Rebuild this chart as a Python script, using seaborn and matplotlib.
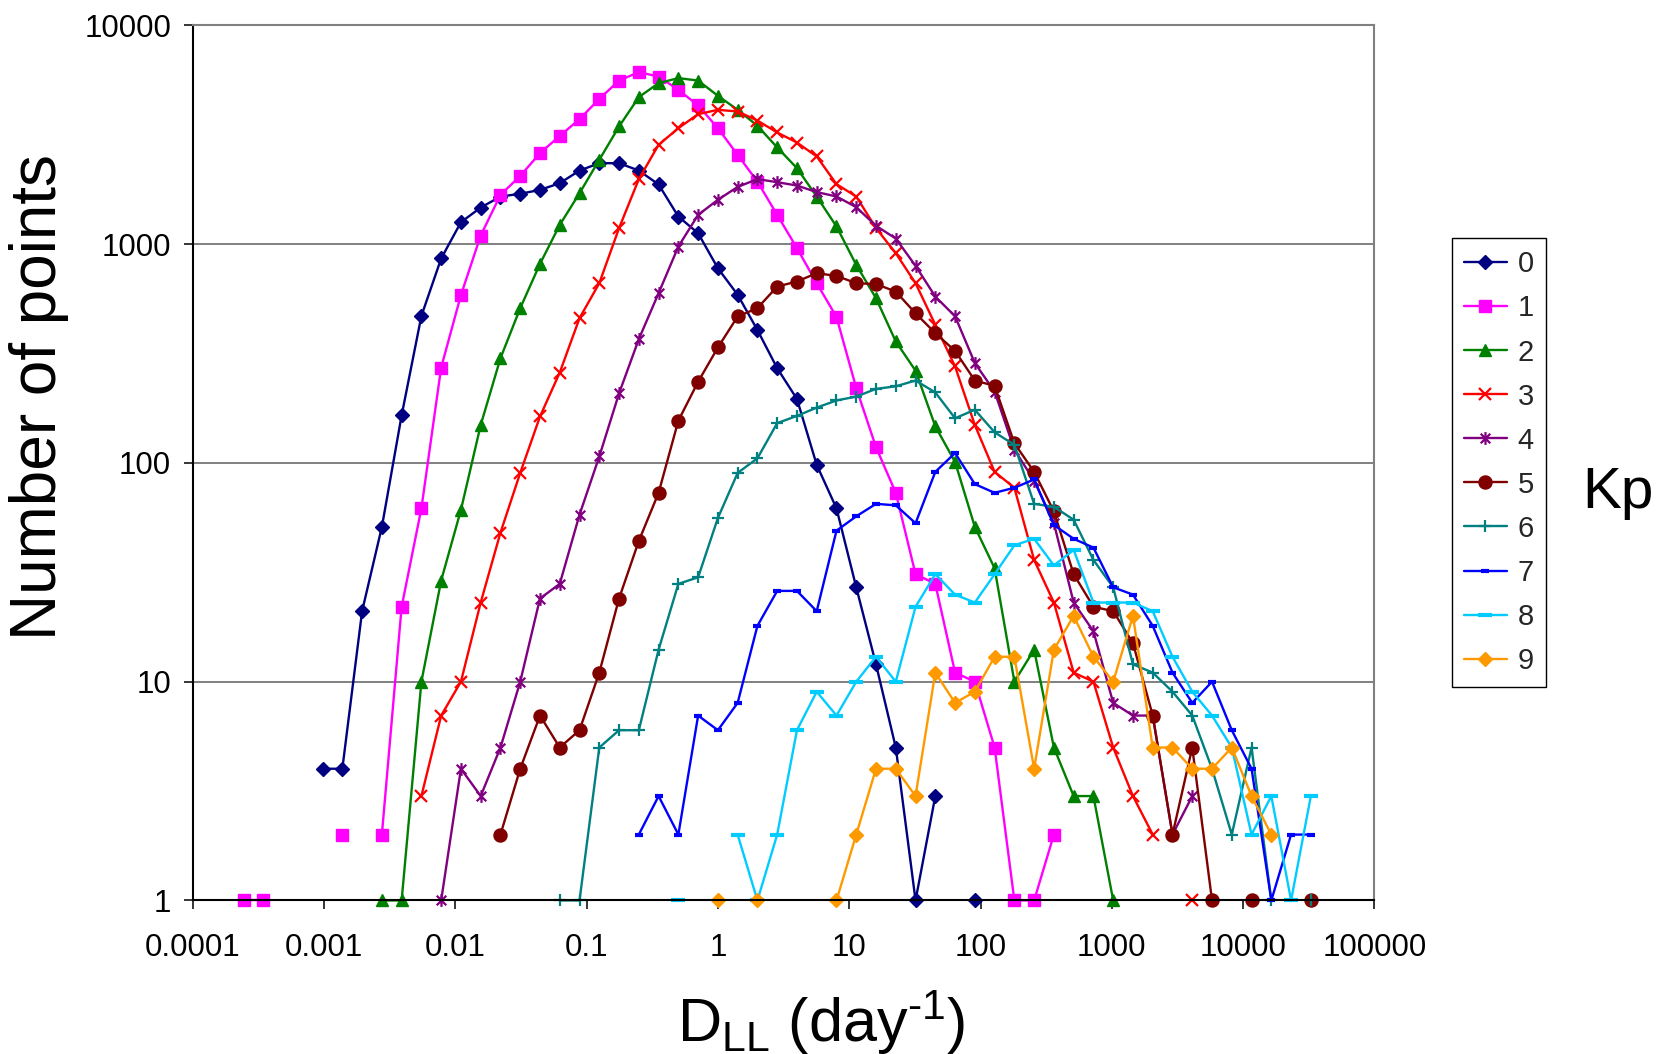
import numpy as np
import pandas as pd
import matplotlib
matplotlib.use("Agg")
import matplotlib.pyplot as plt
from matplotlib.path import Path
from matplotlib.lines import Line2D
from matplotlib.ticker import FixedLocator, FixedFormatter, NullLocator
import seaborn as sns

# D_LL histogram bins: half-octave spacing, centres at 2**(k/2) day^-1
BIN_EXPONENTS = np.arange(-24, 31)
DLL_BINS = 2.0 ** (BIN_EXPONENTS / 2.0)

KP_LEVELS = ["0", "1", "2", "3", "4", "5", "6", "7", "8", "9"]

# Counts per Kp level, listed from the first occupied bin exponent (None = empty bin)
KP0_FIRST = -20
KP0_COUNTS = [4, 4, 21, 51, 165, 470, 860, 1260, 1470, 1650, 1700, 1770, 1900, 2170,
              2345, 2345, 2170, 1875, 1337, 1122, 776, 587, 405, 271, 196, 98, 62, 27,
              12, 5, 1, 3, None, 1]

KP1_FIRST = -24
KP1_COUNTS = [1, 1, None, None, None, 2, None, 2, 22, 62, 273, 585, 1095, 1680, 2050,
              2607, 3126, 3727, 4613, 5595, 6113, 5837, 5077, 4305, 3390, 2559, 1931,
              1361, 959, 663, 465, 220, 118, 73, 31, 28, 11, 10, 5, 1, 1, 2]

KP2_FIRST = -17
KP2_COUNTS = [1, 1, 10, 29, 61, 149, 301, 510, 813, 1225, 1710, 2430, 3451, 4699, 5448,
              5741, 5596, 4766, 4113, 3477, 2768, 2225, 1650, 1205, 804, 566, 359, 264,
              147, 101, 51, 33, 10, 14, 5, 3, 3, 1]

KP3_FIRST = -15
KP3_COUNTS = [3, 7, 10, 23, 48, 90, 163, 259, 459, 663, 1184, 1983, 2845, 3390, 3929,
              4113, 4040, 3673, 3240, 2914, 2517, 1881, 1651, 1184, 909, 663, 428, 276,
              149, 91, 77, 36, 23, 11, 10, 5, 3, 2, None, 1]

KP4_FIRST = -14
KP4_COUNTS = [1, 4, 3, 5, 10, 24, 28, 58, 107, 208, 368, 597, 975, 1361, 1595, 1827,
              1983, 1920, 1853, 1730, 1652, 1476, 1213, 1061, 796, 576, 468, 286, 212,
              115, 83, 53, 23, 17, 8, 7, 7, 2, 3]

KP5_FIRST = -11
KP5_COUNTS = [2, 4, 7, 5, 6, 11, 24, 44, 73, 156, 235, 337, 467, 510, 640, 675, 737,
              716, 663, 657, 607, 483, 392, 325, 238, 225, 123, 91, 60, 31, 22, 21, 15,
              7, 2, 5, 1, None, 1, None, None, 1]

KP6_FIRST = -8
KP6_COUNTS = [1, 1, 5, 6, 6, 14, 28, 30, 56, 90, 105, 152, 164, 179, 193, 201, 218, 224,
              238, 210, 160, 175, 138, 121, 65, 63, 55, 36, 27, 12, 11, 9, 7, 4, 2, 5, 1,
              None, 1]

KP7_FIRST = -4
KP7_COUNTS = [2, 3, 2, 7, 6, 8, 18, 26, 26, 21, 49, 57, 65, 64, 53, 91, 111, 80, 73, 77,
              84, 52, 45, 41, 27, 25, 18, 11, 8, 10, 6, 4, 1, 2, 2]

KP8_FIRST = -2
KP8_COUNTS = [1, None, None, 2, 1, 2, 6, 9, 7, 10, 13, 10, 22, 31, 25, 23, 31, 42, 45,
              34, 40, 23, 23, 23, 21, 13, 9, 7, 5, 2, 3, 1, 3]

KP9_FIRST = 0
KP9_COUNTS = [1, None, 1, None, None, None, 1, 2, 4, 4, 3, 11, 8, 9, 13, 13, 4, 14, 20,
              13, 10, 20, 5, 5, 4, 4, 5, 3, 2]

SERIES_FIRST = [KP0_FIRST, KP1_FIRST, KP2_FIRST, KP3_FIRST, KP4_FIRST,
                KP5_FIRST, KP6_FIRST, KP7_FIRST, KP8_FIRST, KP9_FIRST]
SERIES_COUNTS = [KP0_COUNTS, KP1_COUNTS, KP2_COUNTS, KP3_COUNTS, KP4_COUNTS,
                 KP5_COUNTS, KP6_COUNTS, KP7_COUNTS, KP8_COUNTS, KP9_COUNTS]

X_TICKS = [1e-4, 1e-3, 1e-2, 1e-1, 1e0, 1e1, 1e2, 1e3, 1e4, 1e5]
X_TICK_LABELS = ["0.0001", "0.001", "0.01", "0.1", "1", "10", "100", "1000",
                 "10000", "100000"]
Y_TICKS = [1, 10, 100, 1000, 10000]
Y_TICK_LABELS = ["1", "10", "100", "1000", "10000"]

# Long table; consecutive occupied bins share a segment id so empty bins break the line
rows = []
for level, first, counts in zip(KP_LEVELS, SERIES_FIRST, SERIES_COUNTS):
    seg = 0
    prev_none = True
    for i, c in enumerate(counts):
        if c is None:
            prev_none = True
            continue
        if prev_none:
            seg += 1
        prev_none = False
        k = first + i
        rows.append({"Kp": level, "DLL": DLL_BINS[k - BIN_EXPONENTS[0]],
                     "count": float(c), "segment": seg})
frame = pd.DataFrame(rows)

# Excel-style asterisk marker: an x with a vertical bar
star_path = Path(
    [(0, -1), (0, 1), (-0.75, -0.75), (0.75, 0.75), (-0.75, 0.75), (0.75, -0.75)],
    [Path.MOVETO, Path.LINETO, Path.MOVETO, Path.LINETO, Path.MOVETO, Path.LINETO],
)

styles = {
    "0": dict(color="#000080", marker="D", ms=7.0, mew=1.0, fill=True),
    "1": dict(color="#FF00FF", marker="s", ms=8.8, mew=1.0, fill=True),
    "2": dict(color="#008000", marker="^", ms=9.2, mew=1.0, fill=True),
    "3": dict(color="#FF0000", marker="x", ms=8.8, mew=1.6, fill=False),
    "4": dict(color="#800080", marker=star_path, ms=9.2, mew=1.6, fill=False),
    "5": dict(color="#800000", marker="o", ms=9.4, mew=1.0, fill=True),
    "6": dict(color="#008080", marker="+", ms=9.2, mew=1.6, fill=False),
    "7": dict(color="#0000FF", marker="_", ms=6.0, mew=3.0, fill=False),
    "8": dict(color="#00CCFF", marker="_", ms=9.5, mew=3.0, fill=False),
    "9": dict(color="#FF9900", marker="D", ms=7.2, mew=1.0, fill=True),
}
LINE_WIDTH = 1.7

sns.set_theme(style="white")
plt.rcParams["font.family"] = ["Liberation Sans", "DejaVu Sans"]
plt.rcParams["mathtext.fontset"] = "custom"
plt.rcParams["mathtext.rm"] = "Liberation Sans"
plt.rcParams["mathtext.it"] = "Liberation Sans:italic"
plt.rcParams["mathtext.bf"] = "Liberation Sans:bold"

fig = plt.figure(figsize=(16.59, 10.54), dpi=100)
ax = fig.add_axes([0.1161, 0.1457, 0.8285 - 0.1161, 0.9759 - 0.1457])
ax.set_xscale("log")
ax.set_yscale("log")

for level in KP_LEVELS:
    st = styles[level]
    sub = frame[frame["Kp"] == level]
    sns.lineplot(
        data=sub, x="DLL", y="count", units="segment", estimator=None, sort=False,
        color=st["color"], marker=st["marker"], markersize=st["ms"],
        markeredgewidth=st["mew"], markeredgecolor=st["color"],
        markerfacecolor=st["color"] if st["fill"] else "none",
        linewidth=LINE_WIDTH, legend=False, clip_on=False, ax=ax,
    )

ax.set_xlim(1e-4, 1e5)
ax.set_ylim(1, 1e4)
ax.xaxis.set_major_locator(FixedLocator(X_TICKS))
ax.xaxis.set_major_formatter(FixedFormatter(X_TICK_LABELS))
ax.yaxis.set_major_locator(FixedLocator(Y_TICKS))
ax.yaxis.set_major_formatter(FixedFormatter(Y_TICK_LABELS))
ax.xaxis.set_minor_locator(NullLocator())
ax.yaxis.set_minor_locator(NullLocator())
ax.tick_params(axis="both", which="major", direction="out", length=6.5, width=1.1,
               color="black", labelsize=22.5, labelcolor="black", bottom=True, left=True)
ax.tick_params(axis="x", pad=17)
ax.tick_params(axis="y", pad=9)

ax.set_axisbelow(True)
ax.yaxis.grid(True, color="#808080", linewidth=1.4)
ax.xaxis.grid(False)
for side in ("left", "bottom"):
    ax.spines[side].set_color("black")
    ax.spines[side].set_linewidth(1.5)
for side in ("top", "right"):
    ax.spines[side].set_color("#808080")
    ax.spines[side].set_linewidth(1.5)

ax.set_ylabel("Number of points", fontsize=46, color="black", va="center")
ax.yaxis.set_label_coords(-0.130, 0.575)
ax.set_xlabel("D$_{\\rm LL}$ (day$^{\\rm \u2010" + "1}$)", fontsize=44, color="black",
              va="baseline")
ax.xaxis.set_label_coords(0.532, -0.162)

handles = []
for level in KP_LEVELS:
    st = styles[level]
    handles.append(Line2D([0], [0], color=st["color"], linewidth=LINE_WIDTH,
                          marker=st["marker"], markersize=st["ms"],
                          markeredgewidth=st["mew"], markeredgecolor=st["color"],
                          markerfacecolor=st["color"] if st["fill"] else "none"))
leg = fig.legend(handles, KP_LEVELS, loc="upper left", bbox_to_anchor=(0.875, 0.774),
                 bbox_transform=fig.transFigure, fontsize=21, frameon=True,
                 fancybox=False, edgecolor="black", framealpha=1, borderpad=0.42,
                 labelspacing=0.55, handlelength=1.47, handletextpad=0.38,
                 borderaxespad=0)
leg.get_frame().set_linewidth(1.0)

fig.text(0.9536, 0.518, "Kp", fontsize=42, ha="left", va="baseline", color="black")

fig.savefig("out.png", dpi=100, facecolor="white")
